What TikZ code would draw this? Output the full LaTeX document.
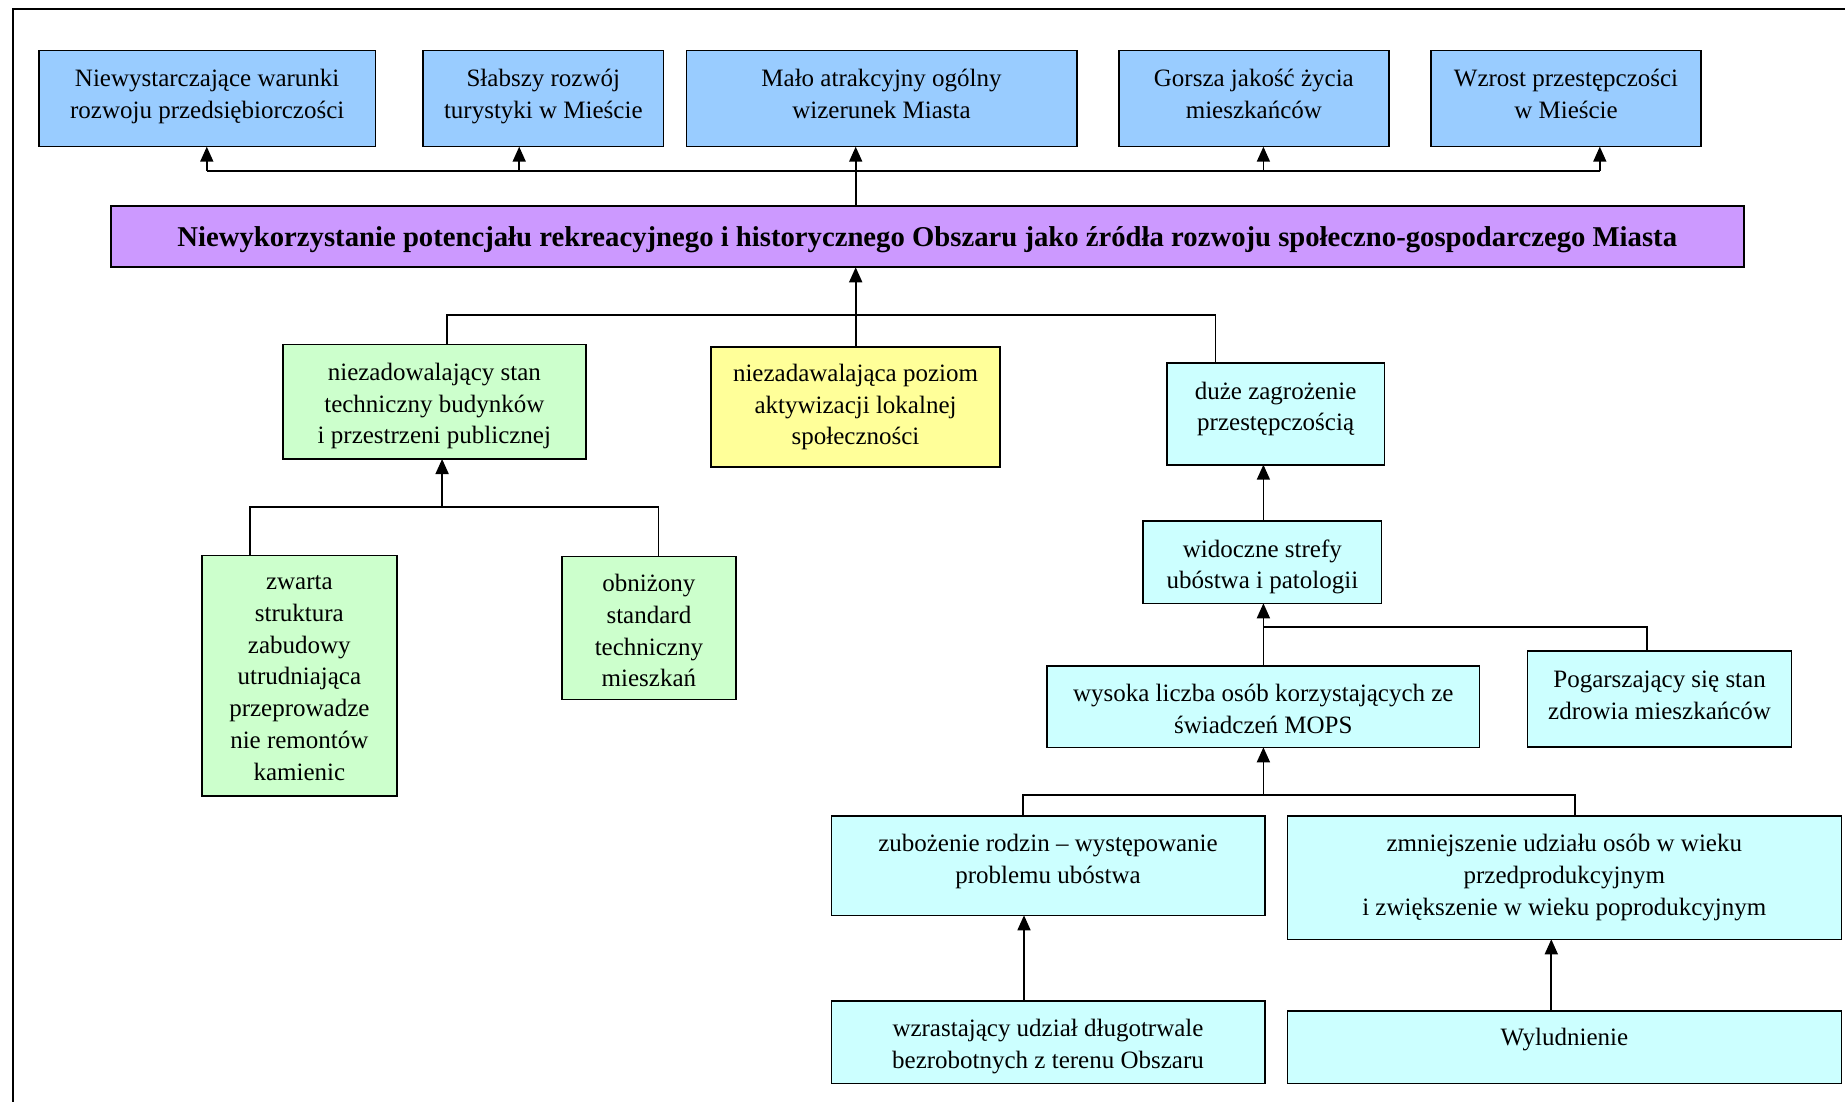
\documentclass[tikz,border=0pt]{standalone}
\usepackage{fontspec}
\setmainfont{Liberation Serif}
\usetikzlibrary{arrows.meta}
\definecolor{cblue}{HTML}{99CCFF}
\definecolor{cpurple}{HTML}{CC99FF}
\definecolor{cgreen}{HTML}{CCFFCC}
\definecolor{cyellow}{HTML}{FFFF99}
\definecolor{ccyan}{HTML}{CCFFFF}
\newcommand{\up}[2]{\raisebox{#1}[\height][\depth]{\begin{tabular}{@{}c@{}}#2\end{tabular}}}
\begin{document}
\begin{tikzpicture}[x=1pt,y=-1pt,
  box/.style={draw=black, line width=1.6pt, inner sep=0pt, outer sep=0pt, align=center,
    font=\fontsize{25}{31.8}\selectfont},
  arr/.style={line width=1.7pt, -{Triangle[length=15pt,width=13pt]}},
  ln/.style={line width=1.7pt}]
\useasboundingbox (0,0) rectangle (1845,1102);
\draw[line width=2pt] (1845,9.3) -- (13.4,9.3) -- (13.4,1102);

% top effects
\node[box,fill=cblue,minimum width=336.8pt,minimum height=96pt] (b1) at (207.2,98.7) {\up{2.5pt}{Niewystarczające warunki\\rozwoju przedsiębiorczości}};
\node[box,fill=cblue,minimum width=240.4pt,minimum height=96pt] (b2) at (543.3,98.7) {\up{2.5pt}{Słabszy rozwój\\turystyki w Mieście}};
\node[box,fill=cblue,minimum width=390.3pt,minimum height=96pt] (b3) at (881.55,98.7) {\up{2.5pt}{Mało atrakcyjny ogólny\\wizerunek Miasta}};
\node[box,fill=cblue,minimum width=269.7pt,minimum height=96pt] (b4) at (1253.85,98.7) {\up{2.5pt}{Gorsza jakość życia\\mieszkańców}};
\node[box,fill=cblue,minimum width=270pt,minimum height=96pt] (b5) at (1566,98.7) {\up{2.5pt}{Wzrost przestępczości\\w Mieście}};

% main problem
\node[box,fill=cpurple,minimum width=1633.1pt,minimum height=61.3pt,font=\fontsize{28.7}{34}\selectfont\bfseries] (main) at (927.25,236.65) {\raisebox{-3.5pt}[\height][\depth]{Niewykorzystanie potencjału rekreacyjnego i historycznego Obszaru jako źródła rozwoju społeczno-gospodarczego Miasta}};

% level 2
\node[box,fill=cgreen,minimum width=303.3pt,minimum height=114.7pt] (A) at (434.35,401.65) {\up{-4pt}{niezadowalający stan\\techniczny budynków\\i przestrzeni publicznej}};
\node[box,fill=cyellow,minimum width=289pt,minimum height=120pt] (Y) at (855.5,407) {niezadawalająca poziom\\aktywizacji lokalnej\\społeczności};
\node[box,fill=ccyan,minimum width=217.5pt,minimum height=102pt] (D) at (1275.65,413.7) {\up{5pt}{duże zagrożenie\\przestępczością}};

% green children
\node[box,fill=cgreen,minimum width=195.3pt,minimum height=240.4pt] (B) at (299.35,675.5) {\up{-3pt}{zwarta\\struktura\\zabudowy\\utrudniająca\\przeprowadze\\nie remontów\\kamienic}};
\node[box,fill=cgreen,minimum width=174pt,minimum height=143pt] (C) at (648.9,627.8) {\up{-5pt}{obniżony\\standard\\techniczny\\mieszkań}};

% cyan chain
\node[box,fill=ccyan,minimum width=238.5pt,minimum height=82.3pt] (W) at (1262.35,562.15) {\up{-4.5pt}{widoczne strefy\\ubóstwa i patologii}};
\node[box,fill=ccyan,minimum width=432.6pt,minimum height=81.6pt] (M) at (1263.3,706.5) {\up{-4.5pt}{wysoka liczba osób korzystających ze\\świadczeń MOPS}};
\node[box,fill=ccyan,minimum width=264.1pt,minimum height=96pt] (P) at (1659.55,699) {\up{2pt}{Pogarszający się stan\\zdrowia mieszkańców}};
\node[box,fill=ccyan,minimum width=433.4pt,minimum height=99.3pt] (Z) at (1048,865.65) {\up{4.5pt}{zubożenie rodzin – występowanie\\problemu ubóstwa}};
\node[box,fill=ccyan,minimum width=554pt,minimum height=123.3pt] (S) at (1564.3,877.65) {zmniejszenie udziału osób w wieku\\przedprodukcyjnym\\i zwiększenie w wieku poprodukcyjnym};
\node[box,fill=ccyan,minimum width=433.4pt,minimum height=82.6pt] (R) at (1048,1042) {\up{-4.5pt}{wzrastający udział długotrwale\\bezrobotnych z terenu Obszaru}};
\node[box,fill=ccyan,minimum width=554pt,minimum height=72.3pt] (L) at (1564.3,1047.15) {\raisebox{7.5pt}[\height][\depth]{Wyludnienie}};

% junction coordinates
\coordinate (t1) at (206.8,170.7);
\coordinate (t2) at (519.2,170.7);
\coordinate (t3) at (855.7,170.7);
\coordinate (t4) at (1263.4,170.7);
\coordinate (t5) at (1599.8,170.7);
\coordinate (m1) at (447.2,315);
\coordinate (m2) at (855.7,315);
\coordinate (m3) at (1215.5,315);
\coordinate (g0) at (442.1,507.3);
\coordinate (g1) at (249.9,507.3);
\coordinate (g2) at (658.4,507.3);
\coordinate (c1) at (1263.4,627.3);
\coordinate (c2) at (1647.3,627.3);
\coordinate (d0) at (1263.4,795);
\coordinate (d1) at (1023.3,795);
\coordinate (d2) at (1575.3,795);
\coordinate (e1) at (1024,0);
\coordinate (e2) at (1551.3,0);

% top connectors
\draw[arr] (main.north -| t3) -- (b3.south -| t3);
\draw[ln] (t1) -- (t5);
\draw[arr] (t1) -- (b1.south -| t1);
\draw[arr] (t2) -- (b2.south -| t2);
\draw[arr] (t4) -- (b4.south -| t4);
\draw[arr] (t5) -- (b5.south -| t5);

% below main
\draw[arr] (Y.north -| m2) -- (main.south -| m2);
\draw[ln] (A.north -| m1) -- (m1) -- (m3) -- (D.north -| m3);

% green subtree
\draw[arr] (g0) -- (A.south -| g0);
\draw[ln] (B.north -| g1) -- (g1) -- (g2) -- (C.north -| g2);

% cyan chain
\draw[arr] (W.north -| c1) -- (D.south -| c1);
\draw[arr] (M.north -| c1) -- (W.south -| c1);
\draw[ln] (c1) -- (c2) -- (P.north -| c2);
\draw[arr] (d0) -- (M.south -| d0);
\draw[ln] (Z.north -| d1) -- (d1) -- (d2) -- (S.north -| d2);
\draw[arr] (R.north -| e1) -- (Z.south -| e1);
\draw[arr] (L.north -| e2) -- (S.south -| e2);
\end{tikzpicture}
\end{document}
